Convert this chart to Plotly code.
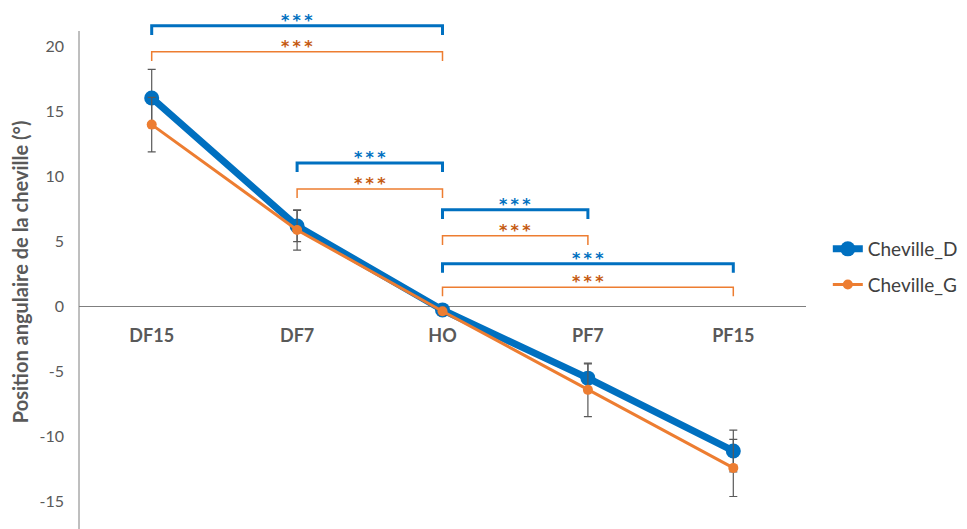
import plotly.graph_objects as go

categories = ["DF15", "DF7", "HO", "PF7", "PF15"]
cheville_d = [16.0, 6.15, -0.3, -5.55, -11.15]
cheville_d_err = [2.2, 1.2, 0.3, 1.1, 1.6]
cheville_g = [13.95, 5.85, -0.4, -6.45, -12.45]
cheville_g_err = [2.1, 1.55, 0.3, 2.05, 2.2]

# significance brackets: (start category index, end category index, level)
brackets_d = [(0, 2, 21.55), (1, 2, 11.0), (2, 3, 7.4), (2, 4, 3.25)]
brackets_g = [(0, 2, 19.55), (1, 2, 9.0), (2, 3, 5.4), (2, 4, 1.45)]
stars = "*\u2009*\u2009*"

y_tickvals = [-15, -10, -5, 0, 5, 10, 15, 20]
y_ticktext = ["-15", "-10", "-5", "0", "5", "10", "15", "20"]
y_title = "Position angulaire de la cheville (°)"

y_range = [-17.15, 23.15]
axis_top = 21.15

BLUE = "#0070C0"
ORANGE = "#ED7D31"
STAR_ORANGE = "#C55A11"
GRAY = "#595959"
FONT = "Lato"

fig = go.Figure()
fig.add_trace(go.Scatter(
    x=categories, y=cheville_d, name="Cheville_D", mode="lines+markers",
    line=dict(color=BLUE, width=7), marker=dict(color=BLUE, size=15),
    error_y=dict(type="data", array=cheville_d_err, color=GRAY, thickness=1.2, width=4),
    legendgroup="d",
))
fig.add_trace(go.Scatter(
    x=categories, y=cheville_g, name="Cheville_G", mode="lines+markers",
    line=dict(color=ORANGE, width=3), marker=dict(color=ORANGE, size=10),
    error_y=dict(type="data", array=cheville_g_err, color=GRAY, thickness=1.2, width=4),
    legendgroup="g",
))

def add_bracket(x0, x1, lvl, color, width, star_color):
    drop = 0.7
    fig.add_shape(type="path",
                  path=f"M {x0},{lvl - drop} L {x0},{lvl} L {x1},{lvl} L {x1},{lvl - drop}",
                  xref="x", yref="y", line=dict(color=color, width=width))
    fig.add_annotation(x=(x0 + x1) / 2, y=lvl, text=stars, showarrow=False,
                       yanchor="bottom", yshift=-6,
                       font=dict(family="DejaVu Sans", size=16, color=star_color, weight="bold"))

for x0, x1, lvl in brackets_d:
    add_bracket(x0, x1, lvl, BLUE, 3, BLUE)
for x0, x1, lvl in brackets_g:
    add_bracket(x0, x1, lvl, ORANGE, 1.5, STAR_ORANGE)

# y axis line (stops at the top of the value range)
fig.add_shape(type="line", xref="paper", yref="y", x0=0, x1=0, y0=y_range[0], y1=axis_top,
              line=dict(color="#7f7f7f", width=1))

# y axis title, centred on the drawn axis line
fig.add_annotation(xref="paper", yref="y", x=0, y=(y_range[0] + axis_top) / 2 + 0.6,
                   text=y_title, textangle=-90, showarrow=False,
                   xanchor="center", yanchor="middle", xshift=-59,
                   font=dict(family=FONT, size=20, color=GRAY, weight="bold"))

fig.update_layout(
    width=967, height=529,
    margin=dict(l=79, r=161, t=5, b=0),
    plot_bgcolor="white", paper_bgcolor="white",
    font=dict(family=FONT, color=GRAY),
    showlegend=True,
    legend=dict(x=1.03, y=0.5, xanchor="left", yanchor="middle",
                font=dict(family=FONT, size=19, color="#404040"),
                tracegroupgap=8, traceorder="grouped"),
    xaxis=dict(
        type="category", range=[-0.5, 4.5],
        anchor="free", position=(0 - y_range[0]) / (y_range[1] - y_range[0]),
        showline=False, showgrid=False, ticks="", zeroline=False,
        tickfont=dict(family=FONT, size=18, color=GRAY, weight="bold"),
        ticklabelstandoff=17,
    ),
    yaxis=dict(
        range=y_range, tickvals=y_tickvals, ticktext=y_ticktext,
        showgrid=False, showline=False, ticks="", automargin=False,
        zeroline=True, zerolinecolor="#7f7f7f", zerolinewidth=1,
        tickfont=dict(family=FONT, size=16, color=GRAY),
        ticklabelstandoff=14,
    ),
)

fig.write_html("out.html", config={"displayModeBar": False},
               post_script="document.body.style.margin='0';")
